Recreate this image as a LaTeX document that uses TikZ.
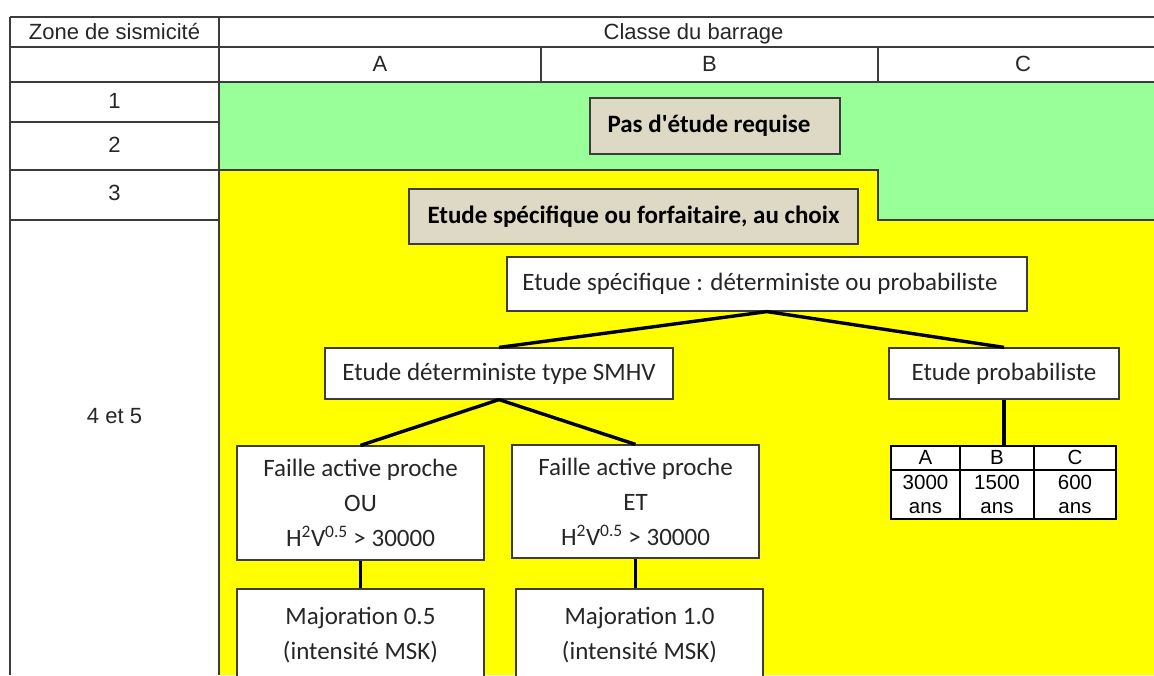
\documentclass[tikz,border=0pt]{standalone}
\usepackage{fontspec}
\setmainfont{Liberation Sans}
\newfontfamily\carlito{Carlito}
\definecolor{zvert}{RGB}{153,255,153}
\definecolor{zjaune}{RGB}{255,255,0}
\definecolor{zbeige}{RGB}{221,217,196}
\definecolor{ztrait}{RGB}{60,60,60}
\definecolor{ztexte}{RGB}{38,38,38}

\begin{document}
\begin{tikzpicture}[x=1pt, y=-1pt,
    cellule/.style={font=\fontsize{22}{26}\selectfont, text=ztexte, inner sep=0pt, anchor=base},
    boite/.style={draw=ztrait, fill=white, line width=1.2pt, font=\carlito\fontsize{25}{35}\selectfont, text=ztexte, align=center, inner sep=0pt},
    titre/.style={boite, fill=zbeige, font=\carlito\bfseries\fontsize{25}{30}\selectfont, text=black},
    lien/.style={line width=3.4pt, black},
    grille/.style={ztrait, line width=1.3pt},
    mini/.style={font=\fontsize{20.5}{24}\selectfont, text=black, inner sep=0pt, align=center}
]
    \useasboundingbox (0,0) rectangle (1154,675);
    \clip (0,0) rectangle (1154,675);

    % Zones de couleur
    \fill[zvert] (219,82) rectangle (1154,170);
    \fill[zvert] (878,170) rectangle (1154,220);
    \fill[zjaune] (219,170) -- (878,170) -- (878,220) -- (1154,220) -- (1154,675) -- (219,675) -- cycle;

    % Grille du tableau
    \draw[grille] (10,17) -- (1154,17);
    \draw[grille] (10,47) -- (1154,47);
    \draw[grille] (10,82) -- (1154,82);
    \foreach \y in {122,170,220} {
        \draw[grille] (10,\y) -- (219,\y);
    }
    \draw[grille] (10,17) -- (10,675);
    \draw[grille] (219,17) -- (219,675);
    \draw[grille] (541,47) -- (541,82);
    \draw[grille] (878,47) -- (878,82);
    \draw[grille] (219,170) -- (878,170) -- (878,220) -- (1154,220);

    % En-tetes
    \node[cellule] (zone) at (114.5,39) {Zone de sismicité};
    \node[cellule] (classe) at (693.5,39) {Classe du barrage};
    \node[cellule] (ca) at (380,71) {A};
    \node[cellule] (cb) at (709.5,71) {B};
    \node[cellule] (cc) at (1023,71) {C};

    % Zones
    \node[cellule] (z1) at (114.5,108) {1};
    \node[cellule] (z2) at (114.5,152) {2};
    \node[cellule] (z3) at (114.5,200) {3};
    \node[cellule] (z45) at (114.5,423) {4 et 5};

    % Boites
    \node[titre, minimum width=250pt, minimum height=56pt] (pas) at (715,126) {Pas d'étude requise\hspace{12pt}};
    \node[titre, minimum width=449pt, minimum height=55pt] (choix) at (633.5,216.5) {Etude spécifique ou forfaitaire, au choix};
    \node[boite, minimum width=520pt, minimum height=54pt] (spec) at (767,284) {Etude spécifique : déterministe ou probabiliste\hspace{14pt}};
    \node[boite, minimum width=348pt, minimum height=51pt] (det) at (499,373.5) {Etude déterministe type SMHV};
    \node[boite, minimum width=230pt, minimum height=51pt] (prob) at (1004,373.5) {Etude probabiliste};
    \node[boite, minimum width=247pt, minimum height=114pt] (ou) at (360.5,503) {Faille active proche\\OU\\H\textsuperscript{2}V\textsuperscript{0.5} > 30000};
    \node[boite, minimum width=247pt, minimum height=113pt] (et) at (635.5,501.5) {Faille active proche\\ET\\H\textsuperscript{2}V\textsuperscript{0.5} > 30000};
    \node[boite, minimum width=247pt, minimum height=92pt] (maj1) at (360.5,635) {Majoration 0.5\\(intensité MSK)};
    \node[boite, minimum width=247pt, minimum height=92pt] (maj2) at (639.5,635) {Majoration 1.0\\(intensité MSK)};

    % Periodes de retour
    \node[draw=black, line width=1.1pt, fill=white, minimum width=225pt, minimum height=73pt, inner sep=0pt] (periodes) at (1003.5,482.5) {};
    \draw[black, line width=1.1pt] (891,470) -- (1116,470);
    \draw[black, line width=1.1pt] (960,446) -- (960,519);
    \draw[black, line width=1.1pt] (1034,446) -- (1034,519);
    \node[mini, anchor=base] (pa) at (925.5,464) {A};
    \node[mini, anchor=base] (pb) at (997,464) {B};
    \node[mini, anchor=base] (pc) at (1075,464) {C};
    \node[mini] (ra) at (925.5,494) {3000\\ans};
    \node[mini] (rb) at (997,494) {1500\\ans};
    \node[mini] (rc) at (1075,494) {600\\ans};

    % Liens
    \draw[lien] (spec.south) -- (det.north);
    \draw[lien] (spec.south) -- (prob.north);
    \draw[lien] (det.south) -- (ou.north);
    \draw[lien] (det.south) -- (et.north);
    \draw[lien] (ou.south) -- (maj1.north);
    \draw[lien] (et.south) -- (et.south |- maj2.north);
    \draw[lien] (prob.south) -- (prob.south |- periodes.north);
\end{tikzpicture}
\end{document}
